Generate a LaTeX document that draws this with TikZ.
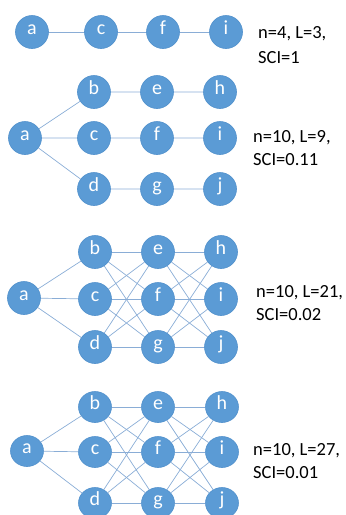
\documentclass[tikz,border=0pt]{standalone}
\usepackage{fontspec}
\setmainfont{Carlito}
\usetikzlibrary{shapes.geometric}
\definecolor{nodeblue}{HTML}{5B9BD5}
\definecolor{nodeedge}{HTML}{5090CC}
\definecolor{linkblue}{HTML}{8AADD6}
\begin{document}
\begin{tikzpicture}[x=1pt,y=-1pt,
  vx/.style={circle,fill=nodeblue,draw=nodeedge,line width=0.6pt,minimum size=33pt,inner sep=0pt,
    text=white,font=\fontsize{20}{20}\selectfont,text height=0.62em,text depth=0.2em},
  vy/.style={ellipse,fill=nodeblue,draw=nodeedge,line width=0.6pt,minimum width=33pt,minimum height=31pt,inner sep=0pt,
    text=white,font=\fontsize{20}{20}\selectfont,text height=0.62em,text depth=0.2em},
  link/.style={draw=linkblue,line width=0.7pt},
  lbl/.style={anchor=base west,inner sep=0pt,font=\fontsize{18.5}{22}\selectfont}]
\useasboundingbox (0,0) rectangle (346,515);
\clip (0,0) rectangle (346,515);
% panel 1
\node[vx] (p1a) at (32,32) {a};
\node[vx] (p1c) at (101,32) {c};
\node[vx] (p1f) at (163,32) {f};
\node[vx] (p1i) at (226,32) {i};
\draw[link] (p1a) -- (p1c) (p1c) -- (p1f) (p1f) -- (p1i);
\node[lbl] (t1a) at (258,38) {n=4, L=3,};
\node[lbl] (t1b) at (258,63) {SCI=1};
% panel 2
\node[vx] (p2a) at (25,138) {a};
\node[vx] (p2b) at (94,92) {b};
\node[vx] (p2c) at (94,138) {c};
\node[vx] (p2d) at (94,189) {d};
\node[vx] (p2e) at (157,92) {e};
\node[vx] (p2f) at (157,138) {f};
\node[vx] (p2g) at (157,189) {g};
\node[vx] (p2h) at (220,92) {h};
\node[vx] (p2i) at (220,138) {i};
\node[vx] (p2j) at (220,189) {j};
\draw[link] (p2a) -- (p2b) (p2a) -- (p2c) (p2a) -- (p2d)
  (p2b) -- (p2e) (p2e) -- (p2h) (p2c) -- (p2f) (p2f) -- (p2i) (p2d) -- (p2g) (p2g) -- (p2j);
\node[lbl] (t2a) at (253,142) {n=10, L=9,};
\node[lbl] (t2b) at (253,165) {SCI=0.11};
% panel 3
\node[vx] (p3a) at (24,298) {a};
\node[vx] (p3b) at (95,252) {b};
\node[vx] (p3c) at (95,299) {c};
\node[vx] (p3d) at (95,347) {d};
\node[vx] (p3e) at (158,252) {e};
\node[vx] (p3f) at (158,299) {f};
\node[vx] (p3g) at (158,347) {g};
\node[vx] (p3h) at (221,252) {h};
\node[vx] (p3i) at (221,299) {i};
\node[vx] (p3j) at (221,347) {j};
\foreach \u in {b,c,d} {\draw[link] (p3a) -- (p3\u);}
\foreach \u in {b,c,d} {\foreach \v in {e,f,g} {\draw[link] (p3\u) -- (p3\v);}}
\foreach \u in {e,f,g} {\foreach \v in {h,i,j} {\draw[link] (p3\u) -- (p3\v);}}
\node[lbl] (t3a) at (256,297) {n=10, L=21,};
\node[lbl] (t3b) at (256,320) {SCI=0.02};
% panel 4
\node[vy] (p4a) at (27,451) {a};
\node[vy] (p4b) at (95,407) {b};
\node[vy] (p4c) at (95,452) {c};
\node[vy] (p4d) at (95,503) {d};
\node[vy] (p4e) at (158,407) {e};
\node[vy] (p4f) at (158,452) {f};
\node[vy] (p4g) at (158,503) {g};
\node[vy] (p4h) at (222,407) {h};
\node[vy] (p4i) at (222,452) {i};
\node[vy] (p4j) at (222,503) {j};
\foreach \u in {b,c,d} {\draw[link] (p4a) -- (p4\u);}
\foreach \u in {b,c,d} {\foreach \v in {e,f,g} {\draw[link] (p4\u) -- (p4\v);}}
\foreach \u in {e,f,g} {\foreach \v in {h,i,j} {\draw[link] (p4\u) -- (p4\v);}}
\node[lbl] (t4a) at (253,455) {n=10, L=27,};
\node[lbl] (t4b) at (253,478) {SCI=0.01};
\end{tikzpicture}
\end{document}
